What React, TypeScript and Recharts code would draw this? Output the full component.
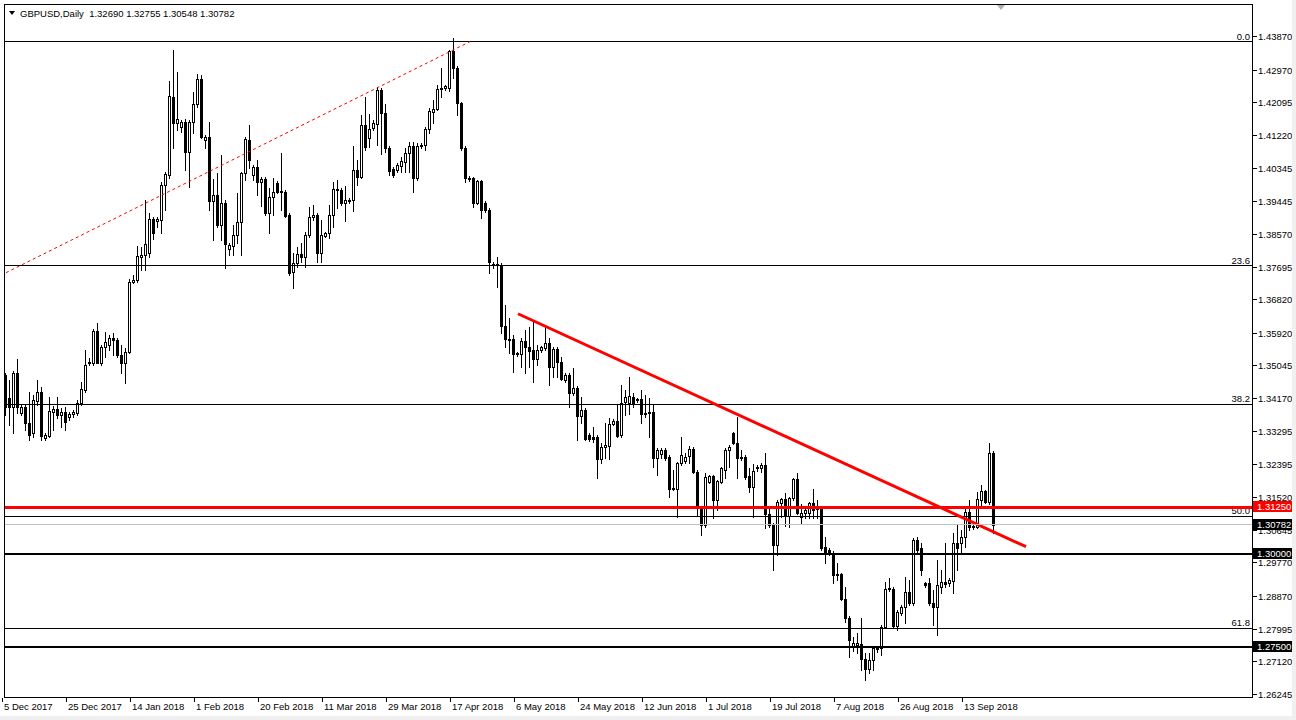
import React from "react";
import { Bar, ComposedChart, ReferenceLine, XAxis, YAxis } from "recharts";

// GBPUSD daily candles, 5 Dec 2017 -> 21 Sep 2018 (MT4 style, Sunday bars included)
const opens = [
  1.3479, 1.3417, 1.3393, 1.3484, 1.3377, 1.3393, 1.3350, 1.3324, 1.3409, 1.3433, // 0
  1.3310, 1.3316, 1.3380, 1.3388, 1.3372, 1.3380, 1.3366, 1.3374, 1.3377, 1.3404, // 10
  1.3439, 1.3511, 1.3511, 1.3597, 1.3511, 1.3554, 1.3559, 1.3578, 1.3573, 1.3532, // 20
  1.3511, 1.3541, 1.3728, 1.3733, 1.3795, 1.3800, 1.3806, 1.3897, 1.3891, 1.3894, // 30
  1.3988, 1.4015, 1.4224, 1.4154, 1.4143, 1.4157, 1.4076, 1.4157, 1.4205, 1.4272, // 40
  1.4108, 1.4116, 1.3945, 1.3961, 1.3881, 1.3940, 1.3816, 1.3824, 1.3854, 1.3889, // 50
  1.4020, 1.4108, 1.4015, 1.4036, 1.3996, 1.4004, 1.3913, 1.3956, 1.3993, 1.3972, // 60
  1.3969, 1.3908, 1.3755, 1.3779, 1.3803, 1.3795, 1.3854, 1.3902, 1.3908, 1.3806, // 70
  1.3851, 1.3859, 1.3908, 1.3974, 1.3974, 1.3940, 1.3945, 1.3948, 1.4028, 1.4009, // 80
  1.4149, 1.4114, 1.4141, 1.4151, 1.4242, 1.4181, 1.4087, 1.4031, 1.4028, 1.4039, // 90
  1.4049, 1.4074, 1.4092, 1.4007, 1.4092, 1.4095, 1.4138, 1.4183, 1.4191, 1.4245, // 100
  1.4248, 1.4248, 1.4347, 1.4301, 1.4208, 1.4087, 1.4007, 1.4007, 1.3940, 1.3999, // 110
  1.3940, 1.3921, 1.3776, 1.3776, 1.3774, 1.3610, 1.3575, 1.3575, 1.3535, 1.3535, // 120
  1.3570, 1.3554, 1.3546, 1.3522, 1.3546, 1.3551, 1.3565, 1.3500, 1.3549, 1.3514, // 130
  1.3466, 1.3479, 1.3431, 1.3444, 1.3369, 1.3385, 1.3318, 1.3313, 1.3313, 1.3254, // 140
  1.3286, 1.3289, 1.3348, 1.3356, 1.3318, 1.3407, 1.3404, 1.3420, 1.3415, 1.3415, // 150
  1.3374, 1.3377, 1.3380, 1.3257, 1.3267, 1.3278, 1.3259, 1.3174, 1.3174, 1.3243, // 160
  1.3249, 1.3262, 1.3281, 1.3219, 1.3123, 1.3077, 1.3192, 1.3208, 1.3144, 1.3192, // 170
  1.3224, 1.3278, 1.3324, 1.3297, 1.3259, 1.3259, 1.3208, 1.3179, 1.3230, 1.3230, // 180
  1.3238, 1.3107, 1.3077, 1.3024, 1.3136, 1.3147, 1.3101, 1.3149, 1.3200, 1.3099, // 190
  1.3109, 1.3109, 1.3136, 1.3123, 1.3123, 1.3018, 1.3010, 1.3002, 1.2946, 1.2946, // 200
  1.2879, 1.2828, 1.2753, 1.2756, 1.2758, 1.2718, 1.2691, 1.2716, 1.2745, 1.2748, // 210
  1.2804, 1.2906, 1.2906, 1.2807, 1.2841, 1.2858, 1.2898, 1.2868, 1.3037, 1.3016, // 220
  1.2922, 1.2922, 1.2868, 1.2858, 1.2911, 1.2924, 1.2922, 1.2927, 1.3029, 1.3029, // 230
  1.3045, 1.3112, 1.3072, 1.3072, 1.3144, 1.3168, 1.3139, 1.3269, // 240
];

const highs = [
  1.3484, 1.3466, 1.3490, 1.3522, 1.3399, 1.3399, 1.3433, 1.3425, 1.3466, 1.3447,
  1.3324, 1.3420, 1.3396, 1.3420, 1.3391, 1.3393, 1.3380, 1.3385, 1.3412, 1.3460,
  1.3546, 1.3524, 1.3602, 1.3618, 1.3559, 1.3594, 1.3586, 1.3591, 1.3578, 1.3559,
  1.3551, 1.3736, 1.3747, 1.3824, 1.3822, 1.3948, 1.3913, 1.3902, 1.3902, 1.3996,
  1.4023, 1.4266, 1.4350, 1.4291, 1.4162, 1.4165, 1.4162, 1.4237, 1.4285, 1.4283,
  1.4122, 1.4157, 1.4004, 1.4020, 1.4068, 1.3948, 1.3833, 1.3881, 1.3966, 1.4023,
  1.4116, 1.4149, 1.4041, 1.4055, 1.4009, 1.4009, 1.3980, 1.4007, 1.3999, 1.4074,
  1.3974, 1.3913, 1.3806, 1.3822, 1.3833, 1.3862, 1.3929, 1.3934, 1.3913, 1.3894,
  1.3862, 1.3934, 1.3996, 1.4001, 1.3980, 1.3985, 1.3953, 1.4092, 1.4055, 1.4175,
  1.4224, 1.4178, 1.4162, 1.4250, 1.4248, 1.4205, 1.4092, 1.4036, 1.4047, 1.4063,
  1.4087, 1.4103, 1.4103, 1.4100, 1.4100, 1.4143, 1.4194, 1.4216, 1.4256, 1.4301,
  1.4256, 1.4350, 1.4382, 1.4307, 1.4210, 1.4092, 1.4012, 1.4009, 1.4001, 1.4001,
  1.3945, 1.3926, 1.3782, 1.3795, 1.3779, 1.3666, 1.3632, 1.3586, 1.3541, 1.3578,
  1.3599, 1.3608, 1.3621, 1.3559, 1.3557, 1.3608, 1.3578, 1.3554, 1.3554, 1.3527,
  1.3484, 1.3484, 1.3498, 1.3449, 1.3420, 1.3391, 1.3324, 1.3340, 1.3318, 1.3297,
  1.3350, 1.3364, 1.3361, 1.3399, 1.3452, 1.3439, 1.3474, 1.3431, 1.3417, 1.3439,
  1.3425, 1.3417, 1.3399, 1.3283, 1.3283, 1.3283, 1.3265, 1.3224, 1.3246, 1.3313,
  1.3270, 1.3289, 1.3286, 1.3224, 1.3128, 1.3216, 1.3211, 1.3211, 1.3198, 1.3232,
  1.3283, 1.3291, 1.3326, 1.3366, 1.3278, 1.3265, 1.3230, 1.3241, 1.3238, 1.3243,
  1.3270, 1.3123, 1.3083, 1.3144, 1.3149, 1.3163, 1.3152, 1.3203, 1.3216, 1.3133,
  1.3123, 1.3139, 1.3174, 1.3144, 1.3125, 1.3045, 1.3016, 1.3007, 1.2975, 1.2949,
  1.2911, 1.2833, 1.2777, 1.2788, 1.2828, 1.2734, 1.2734, 1.2750, 1.2750, 1.2809,
  1.2924, 1.2935, 1.2911, 1.2849, 1.2863, 1.2938, 1.2930, 1.3042, 1.3045, 1.3029,
  1.2924, 1.2935, 1.2903, 1.2983, 1.2957, 1.3029, 1.2935, 1.3056, 1.3077, 1.3064,
  1.3123, 1.3144, 1.3077, 1.3166, 1.3184, 1.3171, 1.3297, 1.32755,
];

const lows = [
  1.3372, 1.3345, 1.3324, 1.3377, 1.3372, 1.3332, 1.3305, 1.3313, 1.3399, 1.3305,
  1.3305, 1.3313, 1.3332, 1.3364, 1.3340, 1.3332, 1.3358, 1.3366, 1.3372, 1.3399,
  1.3433, 1.3506, 1.3506, 1.3511, 1.3506, 1.3527, 1.3546, 1.3532, 1.3527, 1.3484,
  1.3457, 1.3538, 1.3725, 1.3728, 1.3760, 1.3760, 1.3795, 1.3843, 1.3875, 1.3859,
  1.3921, 1.4007, 1.4087, 1.4135, 1.4130, 1.4028, 1.3982, 1.4127, 1.4197, 1.4114,
  1.4087, 1.3921, 1.3841, 1.3875, 1.3841, 1.3765, 1.3800, 1.3800, 1.3833, 1.3800,
  1.4001, 1.4033, 1.4001, 1.3961, 1.3932, 1.3908, 1.3859, 1.3908, 1.3966, 1.3921,
  1.3902, 1.3747, 1.3712, 1.3768, 1.3782, 1.3768, 1.3849, 1.3894, 1.3782, 1.3782,
  1.3849, 1.3846, 1.3875, 1.3926, 1.3934, 1.3891, 1.3940, 1.3918, 1.3988, 1.4007,
  1.4082, 1.4090, 1.4135, 1.4095, 1.4071, 1.4076, 1.4015, 1.4009, 1.4023, 1.4023,
  1.4023, 1.4023, 1.3969, 1.4001, 1.4087, 1.4082, 1.4127, 1.4154, 1.4189, 1.4224,
  1.4242, 1.4240, 1.4275, 1.4175, 1.4082, 1.3996, 1.3999, 1.3929, 1.3937, 1.3899,
  1.3916, 1.3752, 1.3765, 1.3715, 1.3591, 1.3554, 1.3538, 1.3487, 1.3530, 1.3500,
  1.3484, 1.3500, 1.3460, 1.3506, 1.3541, 1.3546, 1.3452, 1.3474, 1.3474, 1.3466,
  1.3460, 1.3393, 1.3425, 1.3305, 1.3350, 1.3305, 1.3302, 1.3299, 1.3203, 1.3243,
  1.3257, 1.3254, 1.3345, 1.3313, 1.3313, 1.3372, 1.3374, 1.3393, 1.3407, 1.3350,
  1.3366, 1.3313, 1.3232, 1.3211, 1.3257, 1.3251, 1.3152, 1.3171, 1.3099, 1.3238,
  1.3243, 1.3243, 1.3216, 1.3104, 1.3050, 1.3072, 1.3190, 1.3096, 1.3117, 1.3190,
  1.3203, 1.3232, 1.3294, 1.3203, 1.3251, 1.3200, 1.3166, 1.3099, 1.3222, 1.3219,
  1.3069, 1.3072, 1.2957, 1.2997, 1.3099, 1.3074, 1.3072, 1.3144, 1.3107, 1.3083,
  1.3096, 1.3096, 1.3096, 1.3096, 1.3010, 1.2975, 1.2997, 1.2922, 1.2930, 1.2876,
  1.2817, 1.2724, 1.2740, 1.2734, 1.2689, 1.2662, 1.2681, 1.2689, 1.2737, 1.2729,
  1.2801, 1.2900, 1.2801, 1.2796, 1.2836, 1.2815, 1.2863, 1.2863, 1.3005, 1.2943,
  1.2911, 1.2863, 1.2809, 1.2782, 1.2895, 1.2911, 1.2914, 1.2895, 1.2957, 1.3002,
  1.3018, 1.3064, 1.3066, 1.3069, 1.3123, 1.3136, 1.3133, 1.30548,
];

const closes = [
  1.3393, 1.3393, 1.3484, 1.3393, 1.3393, 1.3350, 1.3318, 1.3412, 1.3433, 1.3316,
  1.3318, 1.3383, 1.3388, 1.3372, 1.3380, 1.3353, 1.3374, 1.3380, 1.3404, 1.3441,
  1.3506, 1.3514, 1.3597, 1.3511, 1.3554, 1.3567, 1.3578, 1.3573, 1.3532, 1.3511,
  1.3541, 1.3728, 1.3733, 1.3798, 1.3800, 1.3830, 1.3897, 1.3859, 1.3897, 1.3988,
  1.4017, 1.4226, 1.4154, 1.4165, 1.4157, 1.4076, 1.4157, 1.4205, 1.4272, 1.4116,
  1.4116, 1.3945, 1.3961, 1.3881, 1.3940, 1.3830, 1.3827, 1.3854, 1.3889, 1.4020,
  1.4111, 1.4055, 1.4036, 1.3996, 1.4004, 1.3913, 1.3956, 1.3969, 1.3969, 1.3969,
  1.3905, 1.3752, 1.3779, 1.3803, 1.3795, 1.3854, 1.3902, 1.3908, 1.3806, 1.3854,
  1.3859, 1.3908, 1.3977, 1.3977, 1.3940, 1.3948, 1.3948, 1.4028, 1.4009, 1.4149,
  1.4090, 1.4138, 1.4154, 1.4242, 1.4181, 1.4087, 1.4025, 1.4015, 1.4041, 1.4052,
  1.4074, 1.4092, 1.4007, 1.4092, 1.4095, 1.4138, 1.4186, 1.4191, 1.4245, 1.4248,
  1.4253, 1.4347, 1.4301, 1.4208, 1.4087, 1.4007, 1.4004, 1.3940, 1.3999, 1.3921,
  1.3921, 1.3782, 1.3774, 1.3774, 1.3610, 1.3575, 1.3573, 1.3535, 1.3538, 1.3570,
  1.3554, 1.3543, 1.3522, 1.3546, 1.3554, 1.3565, 1.3500, 1.3549, 1.3514, 1.3468,
  1.3479, 1.3431, 1.3444, 1.3369, 1.3385, 1.3308, 1.3308, 1.3308, 1.3254, 1.3286,
  1.3291, 1.3348, 1.3356, 1.3316, 1.3404, 1.3420, 1.3423, 1.3404, 1.3412, 1.3374,
  1.3377, 1.3380, 1.3257, 1.3278, 1.3278, 1.3257, 1.3174, 1.3176, 1.3243, 1.3265,
  1.3259, 1.3281, 1.3219, 1.3131, 1.3077, 1.3206, 1.3208, 1.3144, 1.3195, 1.3230,
  1.3278, 1.3286, 1.3297, 1.3257, 1.3257, 1.3206, 1.3179, 1.3222, 1.3232, 1.3238,
  1.3107, 1.3077, 1.3024, 1.3139, 1.3147, 1.3101, 1.3149, 1.3200, 1.3109, 1.3109,
  1.3117, 1.3136, 1.3117, 1.3120, 1.3016, 1.3002, 1.3002, 1.2943, 1.2943, 1.2879,
  1.2828, 1.2769, 1.2761, 1.2761, 1.2718, 1.2691, 1.2716, 1.2748, 1.2748, 1.2804,
  1.2906, 1.2908, 1.2807, 1.2844, 1.2858, 1.2898, 1.2868, 1.3037, 1.3010, 1.2957,
  1.2916, 1.2868, 1.2858, 1.2916, 1.2924, 1.2919, 1.2930, 1.3029, 1.3016, 1.3045,
  1.3112, 1.3072, 1.3074, 1.3147, 1.3168, 1.3139, 1.3270, 1.30782,
];

// date labels sit every 16 bars
const tickLabels = [
  "5 Dec 2017", "25 Dec 2017", "14 Jan 2018", "1 Feb 2018", "20 Feb 2018", "11 Mar 2018",
  "29 Mar 2018", "17 Apr 2018", "6 May 2018", "24 May 2018", "12 Jun 2018", "1 Jul 2018",
  "19 Jul 2018", "7 Aug 2018", "26 Aug 2018", "13 Sep 2018",
];
const tickBars = [0, 16, 32, 48, 64, 80, 96, 112, 128, 144, 160, 176, 192, 208, 224, 240];

const priceTicks = [
  1.4387, 1.4297, 1.42095, 1.4122, 1.40345, 1.39445, 1.3857, 1.37695, 1.3682, 1.3592, 1.35045,
  1.3417, 1.33295, 1.32395, 1.3152, 1.30645, 1.2977, 1.2887, 1.27995, 1.2712, 1.26245,
];

const fibNames = ["0.0", "23.6", "38.2", "50.0", "61.8"];
const fibPrices = [1.4371, 1.3771, 1.3401, 1.3101, 1.2801];

const redLevel = 1.3125;
const bidLevel = 1.30782;
const blackLevels = [1.3, 1.275];

// trendline anchors: [bar, price]
const dottedTrend = [[0, 1.3753], [116, 1.4372]];
const redTrend = [[128, 1.3643], [255, 1.3019]];

const SLOTS = 312;
const Y_MIN = 1.26164;
const Y_MAX = 1.44727;
const FONT = "'Liberation Sans', Arial, sans-serif";
const FS = 9.5;

const data = Array.from({ length: SLOTS }, (_, i) =>
  i < closes.length
    ? { i, o: opens[i], h: highs[i], l: lows[i], c: closes[i], range: [lows[i], highs[i]] }
    : { i }
);

function Candle(props: any) {
  const { x, y, width, height, payload } = props;
  if (!payload || payload.c === undefined) return null;
  const { o, h, l, c } = payload;
  const cx = Math.round(x + width / 2);
  const py = (p: number) => y + ((h - p) / (h - l)) * height;
  const top = Math.round(y);
  const bottom = Math.round(y + height);
  const bt = Math.round(py(Math.max(o, c)));
  const bb = Math.round(py(Math.min(o, c)));
  return (
    <g>
      <rect x={cx - 1} y={top} width={1} height={bottom - top + 1} fill="#000" />
      <rect x={cx - 2} y={bt} width={3} height={bb - bt + 1} fill="#000" />
      {c > o && bb - bt > 1 && (
        <rect x={cx - 1} y={bt + 1} width={1} height={bb - bt - 1} fill="#fff" />
      )}
    </g>
  );
}

function DateTick(props: any) {
  const { x, y, payload } = props;
  const k = tickBars.indexOf(payload.value);
  if (k < 0) return null;
  const tx = Math.round(x);
  return (
    <g>
      <rect x={tx - 4} y={y + 1} width={1} height={4} fill="#000" />
      <text x={tx - 2} y={y + 12.5} fontSize={FS} fontFamily={FONT} fill="#000">
        {tickLabels[k]}
      </text>
    </g>
  );
}

const hline = (color: string, w: number) => (p: any) => (
  <rect
    x={Math.min(p.x1, p.x2)}
    y={Math.round(p.y1 - w / 2)}
    width={Math.abs(p.x2 - p.x1)}
    height={w}
    fill={color}
  />
);

const axisLabel = (txt: string) => (props: any) => {
  const vb = props.viewBox || props;
  const rx = vb.x + vb.width;
  const ty = Math.round(vb.y);
  return (
    <g>
      <rect x={rx + 1} y={ty} width={4} height={1} fill="#000" />
      <text x={rx + 6} y={ty + 3.5} fontSize={FS} fontFamily={FONT} fill="#000">
        {txt}
      </text>
    </g>
  );
};

const fibLabel = (txt: string) => (props: any) => {
  const vb = props.viewBox || props;
  return (
    <text
      x={vb.x + vb.width - 2}
      y={Math.round(vb.y) - 2}
      textAnchor="end"
      fontSize={FS}
      fontFamily={FONT}
      fill="#000"
    >
      {txt}
    </text>
  );
};

const priceBox = (txt: string, bg: string) => (props: any) => {
  const vb = props.viewBox || props;
  const rx = vb.x + vb.width;
  const ty = Math.round(vb.y);
  return (
    <g>
      <rect x={rx + 1} y={ty - 6} width={41} height={11} fill={bg} />
      <text x={rx + 5} y={ty + 3} fontSize={FS} fontFamily={FONT} fill="#fff">
        {txt}
      </text>
    </g>
  );
};

export default function App() {
  const n = closes.length - 1;
  const header = `GBPUSD,Daily  ${opens[n].toFixed(5)} ${highs[n].toFixed(5)} ${lows[n].toFixed(5)} ${closes[n].toFixed(5)}`;
  return (
    <div style={{ position: "absolute", left: 0, top: 0, width: 1296, height: 720, background: "#fff" }}>
      <ComposedChart
        width={1296}
        height={720}
        data={data}
        margin={{ top: 4, right: 44, bottom: 0, left: 4 }}
        barCategoryGap={0}
      >
        <XAxis
          dataKey="i"
          type="category"
          ticks={tickBars}
          interval={0}
          height={23}
          tickLine={false}
          axisLine={false}
          tickSize={0}
          tickMargin={0}
          tick={(p: any) => <DateTick {...p} />}
        />
        <YAxis type="number" orientation="right" domain={[Y_MIN, Y_MAX]} allowDataOverflow hide />

        <Bar dataKey="range" barSize={4} shape={(p: any) => <Candle {...p} />} isAnimationActive={false} />

        {fibPrices.map((v, k) => (
          <ReferenceLine key={"fib" + k} y={v} shape={hline("#000", 1)} label={fibLabel(fibNames[k])} />
        ))}

        <ReferenceLine
          segment={[
            { x: dottedTrend[0][0], y: dottedTrend[0][1] },
            { x: dottedTrend[1][0], y: dottedTrend[1][1] },
          ]}
          stroke="#ff0000"
          strokeWidth={1}
          strokeDasharray="3 3"
        />
        <ReferenceLine
          segment={[
            { x: redTrend[0][0], y: redTrend[0][1] },
            { x: redTrend[1][0], y: redTrend[1][1] },
          ]}
          stroke="#ff0000"
          strokeWidth={3}
        />

        {priceTicks.map((v) => (
          <ReferenceLine key={"t" + v} y={v} stroke="none" label={axisLabel(v.toFixed(5))} />
        ))}

        <ReferenceLine y={bidLevel} shape={hline("#c0c0c0", 1)} label={priceBox(bidLevel.toFixed(5), "#000")} />
        {blackLevels.map((v) => (
          <ReferenceLine key={"b" + v} y={v} shape={hline("#000", 2)} label={priceBox(v.toFixed(5), "#000")} />
        ))}
        <ReferenceLine y={redLevel} shape={hline("#ff0000", 3)} label={priceBox(redLevel.toFixed(5), "#ff0000")} />
      </ComposedChart>

      <svg
        width={1296}
        height={720}
        style={{ position: "absolute", left: 0, top: 0, pointerEvents: "none" }}
      >
        <rect x={4.5} y={4.5} width={1248} height={693} fill="none" stroke="#000" strokeWidth={1} />
        <polygon points="9,11 15,11 12,15" fill="#000" />
        <text x={20} y={17} fontSize={FS} fontFamily={FONT} fill="#000" style={{ whiteSpace: "pre" }}>
          {header}
        </text>
        <polygon points="997,5 1005,5 1001,10" fill="#b0b0b0" />
        <rect x={1292} y={0} width={4} height={720} fill="#f0f0f0" />
        <rect x={0} y={716} width={1296} height={4} fill="#f0f0f0" />
      </svg>
    </div>
  );
}
